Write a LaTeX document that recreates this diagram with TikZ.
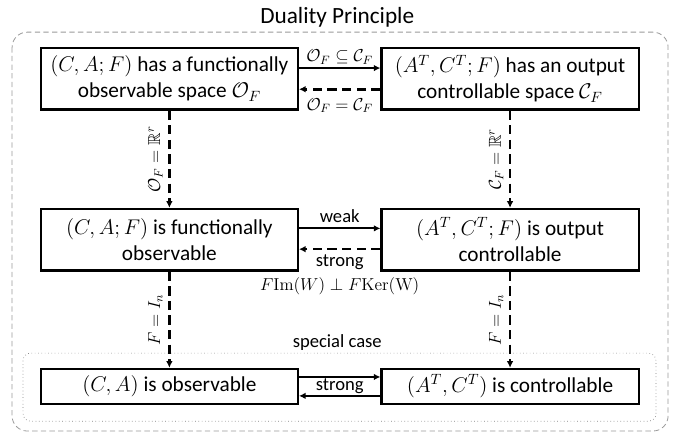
\documentclass[tikz,border=0pt]{standalone}
\usepackage{fix-cm}
\usepackage{amssymb}
\usepackage[no-math]{fontspec}
\setmainfont{Carlito}
\usetikzlibrary{arrows.meta,positioning}

\begin{document}
\begin{tikzpicture}[
		boite/.style={draw=black, line width=1.6pt, minimum width=6.8cm, minimum height=1.63cm, align=center, font=\fontsize{16}{19.5}\selectfont},
		boite basse/.style={boite, minimum height=0.93cm},
		plein/.style={line width=1.4pt, -{Latex[length=5pt,width=5pt]}},
		tiret/.style={line width=2pt, dash pattern=on 7pt off 4pt, -{Latex[length=5pt,width=5pt]}},
		etiq/.style={font=\fontsize{14}{16}\selectfont},
		formule/.style={font=\fontsize{13}{15}\selectfont, inner sep=2pt}]

		\useasboundingbox (0,0) rectangle (17.80,-11.48);

		% Cadres
		\node at (8.92,-0.45) (titre) {\fontsize{17.5}{20}\selectfont Duality Principle};
		\draw[gray!80, line width=0.6pt, dash pattern=on 4pt off 2.5pt, rounded corners=0.4cm] (0.32,-0.85) rectangle (17.67,-11.40);
		\draw[gray, line width=0.5pt, dotted, rounded corners=0.2cm] (0.61,-9.34) rectangle (17.35,-11.14);
		\node[etiq] at (8.92,-9.05) (cas) {special case};

		% Boîtes
		\node[boite] at (4.48,-2.08) (os) {$(C,A;F)$ has a functionally\\observable space $\mathcal{O}_F$};
		\node[boite] at (13.49,-2.08) (cs) {$(A^T,C^T;F)$ has an output\\controllable space $\mathcal{C}_F$};
		\node[boite] at (4.48,-6.34) (fo) {$(C,A;F)$ is functionally\\observable};
		\node[boite] at (13.49,-6.34) (oc) {$(A^T,C^T;F)$ is output\\controllable};
		\node[boite basse] at (4.48,-10.22) (o) {$(C,A)$ is observable};
		\node[boite basse] at (13.49,-10.22) (c) {$(A^T,C^T)$ is controllable};

		% Flèches horizontales
		\draw[plein] ([yshift=0.28cm]os.east) -- node[formule, above] {$\mathcal{O}_F \subseteq \mathcal{C}_F$} ([yshift=0.28cm]cs.west);
		\draw[tiret] ([yshift=-0.28cm]cs.west) -- node[formule, below=4pt] {$\mathcal{O}_F = \mathcal{C}_F$} ([yshift=-0.28cm]os.east);
		\draw[plein] ([yshift=0.3cm]fo.east) -- node[etiq, above] {weak} ([yshift=0.3cm]oc.west);
		\draw[tiret] ([yshift=-0.25cm]oc.west) -- node[etiq, below] (fort) {strong} ([yshift=-0.25cm]fo.east);
		\node[formule, below=-1pt of fort] (cond) {$F\mathrm{Im}(W) \perp F\mathrm{Ker}(\mathrm{W})$};
		\draw[plein] ([yshift=0.25cm]o.east) -- node[etiq, below, inner sep=1pt] {strong} ([yshift=0.25cm]c.west);
		\draw[plein] ([yshift=-0.25cm]c.west) -- ([yshift=-0.25cm]o.east);

		% Flèches verticales
		\draw[tiret] (os) -- node[formule, rotate=90, anchor=south, inner sep=4pt] {$\mathcal{O}_F = \mathbb{R}^r$} (fo);
		\draw[tiret] (cs) -- node[formule, rotate=90, anchor=south, inner sep=4pt] {$\mathcal{C}_F = \mathbb{R}^r$} (oc);
		\draw[tiret] (fo) -- node[formule, rotate=90, anchor=south, inner sep=4pt] {$F = I_n$} (o);
		\draw[tiret] (oc) -- node[formule, rotate=90, anchor=south, inner sep=4pt] {$F = I_n$} (c);

\end{tikzpicture}
\end{document}
